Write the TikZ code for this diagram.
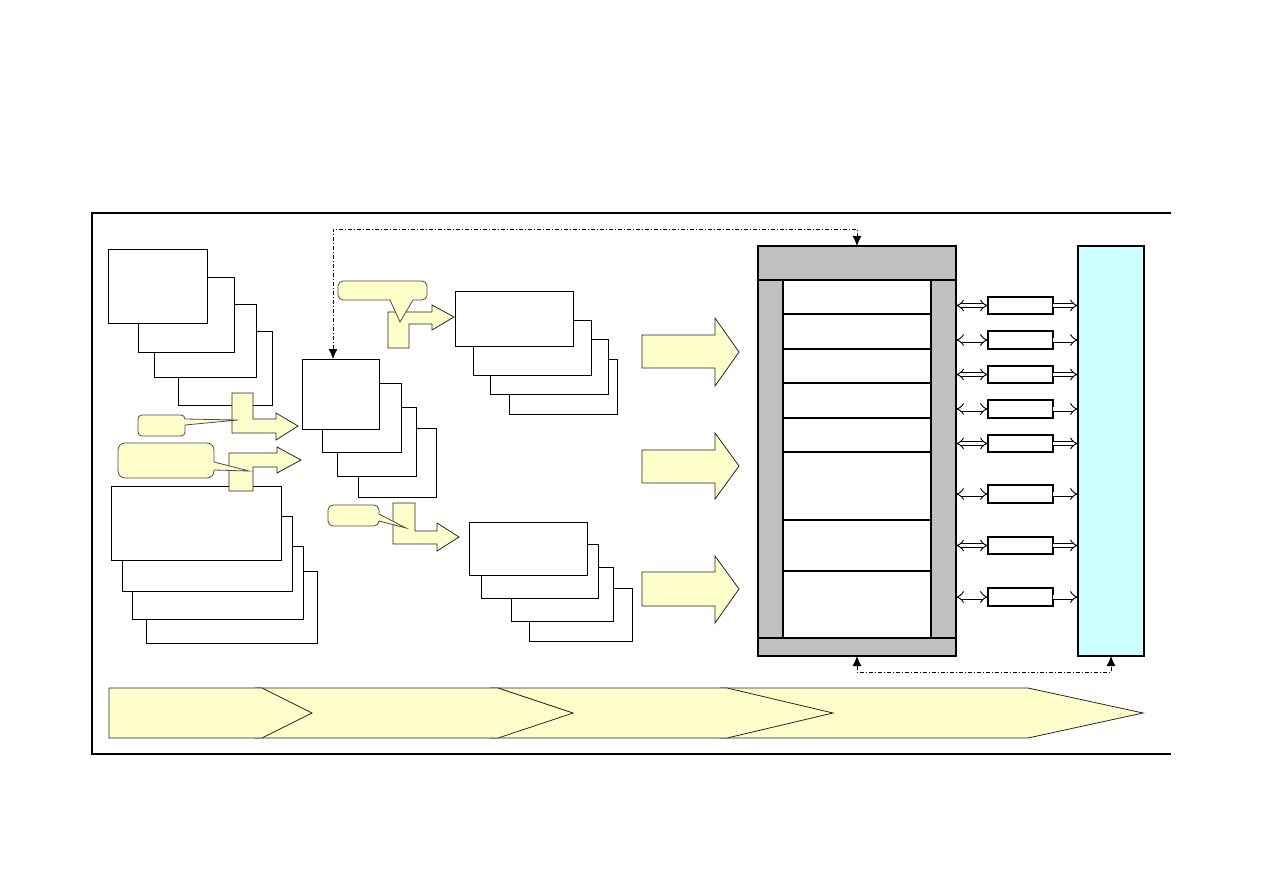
\documentclass[tikz,border=0pt]{standalone}
\usetikzlibrary{arrows.meta,fit,calc}
\definecolor{ylw}{HTML}{FFFFCC}
\definecolor{cyn}{HTML}{CCFFFF}
\definecolor{gry}{HTML}{C0C0C0}
\begin{document}
\begin{tikzpicture}[x=1pt,y=-1pt,
  wbox/.style={draw, fill=white, line width=1pt, inner sep=0pt, outer sep=0pt},
  sbox/.style={draw, fill=white, line width=1.6pt, inner sep=0pt, outer sep=0pt},
  ybody/.style={draw=black!85, fill=ylw, line width=0.8pt, line join=miter},
  callout/.style={draw=black!70, fill=ylw, line width=0.8pt},
  dd/.style={line width=0.8pt, dash pattern=on 4pt off 2pt on 1pt off 2pt,
     {Latex[length=10pt,width=9pt]}-{Latex[length=10pt,width=9pt]}},
  hollowtwo/.style={double distance=3.2pt, line width=0.9pt, {Implies}-{Implies}},
  hollowone/.style={double distance=3.2pt, line width=0.9pt, -{Implies}}]
\useasboundingbox (0,0) rectangle (1263,893);

% outer frame
\draw[line width=1.3pt] (1171,213) -- (92,213) -- (92,754) -- (1171,754);

% stack 1 (top left)
\node[wbox, fit={(178,331)(272,405)}] (r4) {};
\node[wbox, fit={(154,304)(256,377)}] (r3) {};
\node[wbox, fit={(138,278)(234,352)}] (r2) {};
\node[wbox, fit={(108,250)(207,323)}] (r1) {};

% stack 2 (bottom left)
\node[wbox, fit={(146,571)(317,643)}] (b4) {};
\node[wbox, fit={(132,546)(303,619)}] (b3) {};
\node[wbox, fit={(122,516)(292,591)}] (b2) {};
\node[wbox, fit={(111,486)(281,560)}] (b1) {};

% stack 3 (middle)
\node[wbox, fit={(358,428)(436,497)}] (m4) {};
\node[wbox, fit={(337,407)(416,476)}] (m3) {};
\node[wbox, fit={(322,383)(401,452)}] (m2) {};
\node[wbox, fit={(302,359)(379,429)}] (m1) {};

% stack 4 (upper middle)
\node[wbox, fit={(509,359)(617,414)}] (t4) {};
\node[wbox, fit={(490,339)(608,394)}] (t3) {};
\node[wbox, fit={(473,320)(591,375)}] (t2) {};
\node[wbox, fit={(455,291)(573,346)}] (t1) {};

% stack 5 (lower middle)
\node[wbox, fit={(529,588)(632,641)}] (s4) {};
\node[wbox, fit={(511,567)(613,621)}] (s3) {};
\node[wbox, fit={(481,544)(598,598)}] (s2) {};
\node[wbox, fit={(469,522)(587,575)}] (s1) {};

% bent yellow arrows
\draw[ybody] (232,393) -- (253,393) -- (253,419) -- (276,419) -- (276,413) -- (298,426)
  -- (276,440) -- (276,433) -- (232,433) -- cycle;
\draw[ybody] (229,491) -- (229,453) -- (277,453) -- (277,447) -- (301,460) -- (277,473)
  -- (277,467) -- (253,467) -- (253,491) -- cycle;
\draw[ybody] (388,348) -- (388,312) -- (432,312) -- (432,305) -- (454,317) -- (432,330)
  -- (432,324) -- (409,324) -- (409,348) -- cycle;
\draw[ybody] (393,503) -- (415,503) -- (415,531) -- (437,531) -- (437,523) -- (459,537)
  -- (437,551) -- (437,544) -- (393,544) -- cycle;

% callouts
\draw[callout] (138,425) [rounded corners=4pt] -- (138,415) -- (185,415) [sharp corners]
  -- (185,419) -- (238,420) -- (185,425) [rounded corners=4pt] -- (185,436) -- (138,436)
  [sharp corners] -- cycle;
\draw[callout] (118,460) [rounded corners=7pt] -- (118,443) -- (214,443) [sharp corners]
  -- (214,462) -- (249,471) -- (214,470) [rounded corners=7pt] -- (214,478) -- (118,478)
  [sharp corners] -- cycle;
\draw[callout] (380,281) [rounded corners=5pt] -- (427,281) -- (427,300) [sharp corners]
  -- (413,300) -- (400,322) -- (390,300) [rounded corners=5pt] -- (338,300) -- (338,281)
  [sharp corners] -- cycle;
\draw[callout] (328,515) [rounded corners=5pt] -- (328,505) -- (379,505) [sharp corners]
  -- (379,514) -- (406,528) -- (379,521) [rounded corners=5pt] -- (379,526) -- (328,526)
  [sharp corners] -- cycle;

% big yellow arrows
\draw[ybody] (642,335) -- (715,335) -- (715,318) -- (739,352) -- (715,386) -- (715,368) -- (642,368) -- cycle;
\draw[ybody] (642,450) -- (715,450) -- (715,433) -- (739,466) -- (715,499) -- (715,483) -- (642,483) -- cycle;
\draw[ybody] (642,572) -- (715,572) -- (715,556) -- (739,589) -- (715,623) -- (715,606) -- (642,606) -- cycle;

% main grey box
\node[draw, fill=gry, line width=2pt, inner sep=0pt, outer sep=0pt, fit={(758,246)(956,656)}] (main) {};
\draw[fill=white, line width=1.6pt] (783,280) rectangle (931,638);
\draw[line width=1.6pt] (main.west |- 0,280) -- (main.east |- 0,280);
\draw[line width=1.6pt] (main.west |- 0,638) -- (main.east |- 0,638);
\foreach \yy in {314,349,383,418,452,520,571}
  \draw[line width=1.6pt] (783,\yy) -- (931,\yy);

% cyan box
\node[draw, fill=cyn, line width=2pt, inner sep=0pt, outer sep=0pt, fit={(1078,246)(1144,656)}] (cyan) {};

% small boxes and hollow arrows
\foreach \i/\ya/\yb in {1/297/314, 2/331/349, 3/366/383, 4/400/418, 5/435/452, 6/485/503, 7/537/554, 8/588/606}{
  \node[sbox, fit={(988,\ya)(1053,\yb)}] (sb\i) {};
  \draw[hollowtwo] (main.east |- sb\i.west) -- (sb\i.west);
  \draw[hollowone] (sb\i.east) -- (sb\i.east -| cyan.west);
}

% dash-dot feedback connectors
\coordinate (d1) at (333,229);
\coordinate (d2) at (0,672);
\draw[dd] (m1.north -| d1) -- (d1) -| (main.north);
\draw[dd] (main.south) -- (main.south |- d2) -| (cyan.south);

% bottom chevron band
\draw[ybody] (720,688) -- (1028,688) -- (1143,713) -- (1028,738) -- (720,738) -- cycle;
\draw[ybody] (490,688) -- (727,688) -- (833,713) -- (727,738) -- (490,738) -- cycle;
\draw[ybody] (255,688) -- (498,688) -- (573,713) -- (498,738) -- (255,738) -- cycle;
\draw[ybody] (109,688) -- (262,688) -- (312,713) -- (262,738) -- (109,738) -- cycle;
\end{tikzpicture}
\end{document}
